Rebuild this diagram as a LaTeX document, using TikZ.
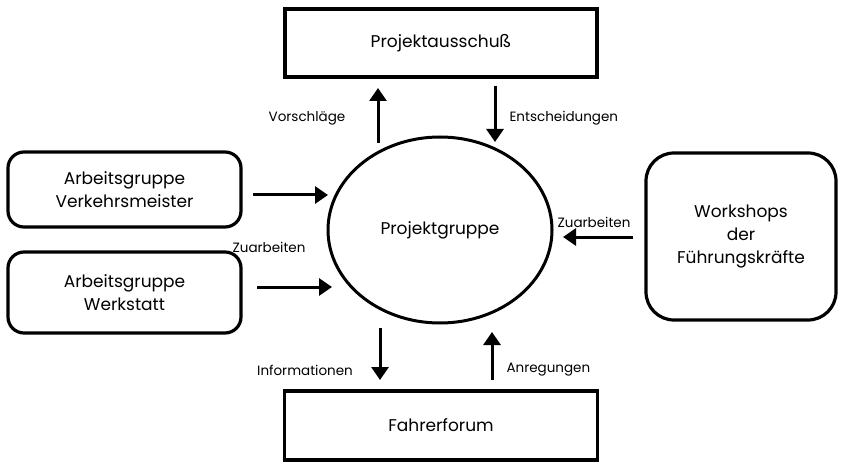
\documentclass[tikz,border=0pt]{standalone}
\usepackage{fontspec}
\setmainfont{Poppins}
\usetikzlibrary{shapes, positioning, arrows.meta}

\tikzset{
  box/.style={draw, line width=3.2pt, align=center, inner sep=0pt,
    font=\fontsize{17}{23}\selectfont},
  rbox/.style={box, rounded corners=16pt},
  arr/.style={line width=3pt, -{Triangle[width=17pt,length=13pt]}},
  lbl/.style={font=\fontsize{13.5}{15}\selectfont}
}

\begin{document}
\begin{tikzpicture}[x=1pt,y=-1pt]
        \useasboundingbox (0,0) rectangle (843,465);

        \node[box, minimum width=312pt, minimum height=68pt] (ausschuss) at (441,43) {Projektausschuß};
        \node[box, minimum width=313pt, minimum height=69pt] (forum) at (441,425.5) {Fahrerforum};
        \node[ellipse, draw, line width=3pt, minimum width=224pt, minimum height=186pt,
          font=\fontsize{17}{20}\selectfont] (gruppe) at (440,230) {Projektgruppe};
        \node[rbox, minimum width=233pt, minimum height=75pt] (meister) at (124.5,189.5) {Arbeitsgruppe\\Verkehrsmeister};
        \node[rbox, minimum width=233pt, minimum height=81pt] (werkstatt) at (124.5,292.5) {Arbeitsgruppe\\Werkstatt};
        \node[rbox, rounded corners=28pt, minimum width=190pt, minimum height=167pt] (workshops) at (741,236.5) {Workshops\\der\\Führungskräfte};

        % Pfeilenden
        \coordinate (vorA) at (378,143);
        \coordinate (vorB) at (378,88);
        \coordinate (entA) at (495,86);
        \coordinate (entB) at (495,142);
        \coordinate (zuA) at (253,195);
        \coordinate (zuB) at (328,195);
        \coordinate (zuC) at (257,287);
        \coordinate (zuD) at (332,287);
        \coordinate (zuE) at (633,237);
        \coordinate (zuF) at (563,237);
        \coordinate (infA) at (380,328);
        \coordinate (infB) at (380,380);
        \coordinate (anrA) at (492,380);
        \coordinate (anrB) at (492,332);

        \draw[arr] (vorA) -- (vorB);
        \draw[arr] (entA) -- (entB);
        \draw[arr] (zuA) -- (zuB);
        \draw[arr] (zuC) -- (zuD);
        \draw[arr] (zuE) -- (zuF);
        \draw[arr] (infA) -- (infB);
        \draw[arr] (anrA) -- (anrB);

        \node[lbl] (vorschlaege) at (307,118) {Vorschläge};
        \node[lbl, anchor=west] (entscheidungen) at (506,118) {Entscheidungen};
        \node[lbl] (zuarbeitenL) at (269,247) {Zuarbeiten};
        \node[lbl] (zuarbeitenR) at (594,222) {Zuarbeiten};
        \node[lbl] (informationen) at (305,370) {Informationen};
        \node[lbl, anchor=west] (anregungen) at (503,370) {Anregungen};

      \end{tikzpicture}
\end{document}
